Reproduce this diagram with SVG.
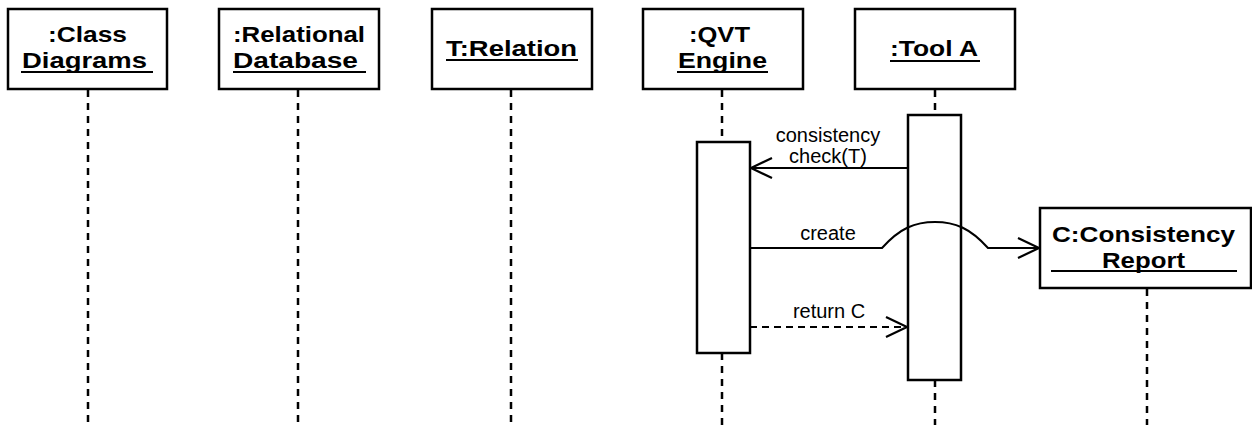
<svg xmlns="http://www.w3.org/2000/svg" width="1252" height="425" viewBox="0 0 1252 425">
<style>
.box{fill:#fff;stroke:#000;stroke-width:2.5}
.hd{font-family:"Liberation Sans",Arial,sans-serif;font-weight:bold;font-size:22px;fill:#000}
.lb{font-family:"Liberation Sans",Arial,sans-serif;font-size:20px;text-anchor:middle;fill:#000}
.ul{stroke:#000;stroke-width:2}
.life{stroke:#000;stroke-width:2.5;stroke-dasharray:7,6;fill:none}
.msg{stroke:#000;stroke-width:2;fill:none}
.ret{stroke:#000;stroke-width:2;fill:none;stroke-dasharray:7,5}
</style>
<defs>
<marker id="open" markerWidth="24" markerHeight="24" refX="22" refY="11" orient="auto" markerUnits="userSpaceOnUse">
<path d="M1,1 L22,11 L1,21" fill="none" stroke="#000" stroke-width="2.2"/>
</marker>
</defs>
<rect width="1252" height="425" fill="#fff"/>
<g id="lifelines">
<line class="life" x1="88" y1="90" x2="88" y2="425"/>
<line class="life" x1="298" y1="90" x2="298" y2="425"/>
<line class="life" x1="511" y1="90" x2="511" y2="425"/>
<line class="life" x1="722" y1="90" x2="722" y2="142"/>
<line class="life" x1="722" y1="353" x2="722" y2="425"/>
<line class="life" x1="935" y1="90" x2="935" y2="115"/>
<line class="life" x1="935" y1="380" x2="935" y2="425"/>
<line class="life" x1="1147" y1="289" x2="1147" y2="425"/>
</g>
<g id="classdiagrams">
<rect class="box" x="8" y="9" width="159" height="80"/>
<text class="hd" x="48" y="42" textLength="79" lengthAdjust="spacingAndGlyphs">:Class</text>
<text class="hd" x="22" y="68" textLength="125" lengthAdjust="spacingAndGlyphs">Diagrams</text>
<line class="ul" x1="21" y1="72" x2="153" y2="72"/>
</g>
<g id="relationaldb">
<rect class="box" x="219" y="9" width="160" height="80"/>
<text class="hd" x="233" y="42" textLength="132" lengthAdjust="spacingAndGlyphs">:Relational</text>
<text class="hd" x="233" y="68" textLength="125" lengthAdjust="spacingAndGlyphs">Database</text>
<line class="ul" x1="233" y1="72" x2="366" y2="72"/>
</g>
<g id="trelation">
<rect class="box" x="432" y="9" width="160" height="80"/>
<text class="hd" x="446" y="56" textLength="131" lengthAdjust="spacingAndGlyphs">T:Relation</text>
<line class="ul" x1="446" y1="60" x2="578" y2="60"/>
</g>
<g id="qvtengine">
<rect class="box" x="643" y="9" width="160" height="80"/>
<text class="hd" x="689" y="42" textLength="61" lengthAdjust="spacingAndGlyphs">:QVT</text>
<text class="hd" x="678" y="68" textLength="89" lengthAdjust="spacingAndGlyphs">Engine</text>
<line class="ul" x1="677" y1="72" x2="768" y2="72"/>
<rect class="box" x="697" y="142" width="53" height="211"/>
</g>
<g id="toola">
<rect class="box" x="855" y="9" width="160" height="80"/>
<text class="hd" x="890" y="56" textLength="88" lengthAdjust="spacingAndGlyphs">:Tool A</text>
<line class="ul" x1="890" y1="61" x2="980" y2="61"/>
<rect class="box" x="908" y="115" width="53" height="265"/>
</g>
<g id="consistencyreport">
<rect class="box" x="1040" y="208" width="211" height="80"/>
<text class="hd" x="1052" y="242" textLength="183" lengthAdjust="spacingAndGlyphs">C:Consistency</text>
<text class="hd" x="1102" y="268" textLength="83" lengthAdjust="spacingAndGlyphs">Report</text>
<line class="ul" x1="1051" y1="271" x2="1237" y2="271"/>
</g>
<g id="connectors">
<line class="msg" x1="908" y1="168" x2="751" y2="168" marker-end="url(#open)"/>
<text class="lb" x="828" y="142">consistency</text>
<text class="lb" x="828" y="163">check(T)</text>
<path class="msg" d="M750,248 L882,248 C900,228 915,222 935,222 C955,222 970,228 988,248 L1039,248" marker-end="url(#open)"/>
<text class="lb" x="828" y="240">create</text>
<line class="ret" x1="750" y1="327" x2="907" y2="327" marker-end="url(#open)"/>
<text class="lb" x="829" y="318">return C</text>
</g>
</svg>
